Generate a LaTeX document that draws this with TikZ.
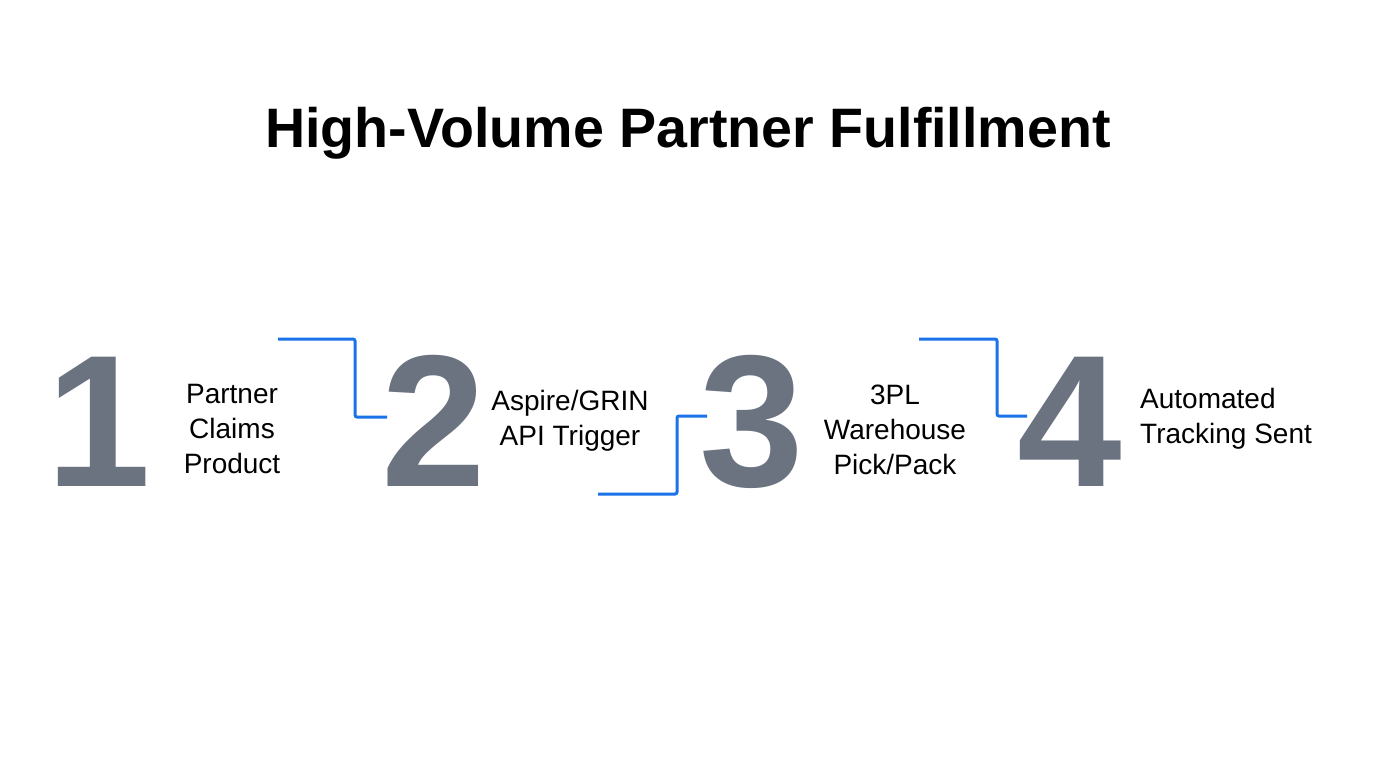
\documentclass[tikz,border=0pt]{standalone}
\usepackage{fontspec}
\setmainfont{Liberation Sans}
\definecolor{numgray}{HTML}{6B7280}
\definecolor{flowblue}{HTML}{1A73E8}
\begin{document}
\begin{tikzpicture}[x=1pt,y=-1pt,
  num/.style={text=numgray, font=\bfseries\fontsize{188}{188}\selectfont, anchor=base, inner sep=0pt},
  lbl/.style={text=black, font=\fontsize{28}{35}\selectfont, align=center, inner sep=0pt},
  lnk/.style={draw=flowblue, line width=3pt, rounded corners=2pt}]
\useasboundingbox[fill=white] (0,0) rectangle (1376,768);
\node[font=\bfseries\fontsize{55.6}{56}\selectfont, anchor=base, inner sep=0pt] (title) at (688,147) {High-Volume Partner Fulfillment};
\node[num] (n1) at (99,486) {1};
\node[num] (n2) at (434,486) {2};
\node[num] (n3) at (752,486) {3};
\node[num] (n4) at (1070,486) {4};
\node[lbl] (t1) at (232,429) {Partner\\Claims\\Product};
\node[lbl] (t2) at (570,421) {Aspire/GRIN\\API Trigger};
\node[lbl] (t3) at (895,430) {3PL\\Warehouse\\Pick/Pack};
\node[lbl, align=left, anchor=west] (t4) at (1140,419) {Automated\\Tracking Sent};
\coordinate (a1) at (278,339);
\coordinate (b1) at (387,417);
\coordinate (a2) at (598,494);
\coordinate (b2) at (707,416);
\coordinate (a3) at (919,339);
\coordinate (b3) at (1027,416);
\draw[lnk] (a1) -- (355,339) -- (355,417) -- (b1);
\draw[lnk] (a2) -- (677,494) -- (677,416) -- (b2);
\draw[lnk] (a3) -- (997,339) -- (997,416) -- (b3);
\end{tikzpicture}
\end{document}
